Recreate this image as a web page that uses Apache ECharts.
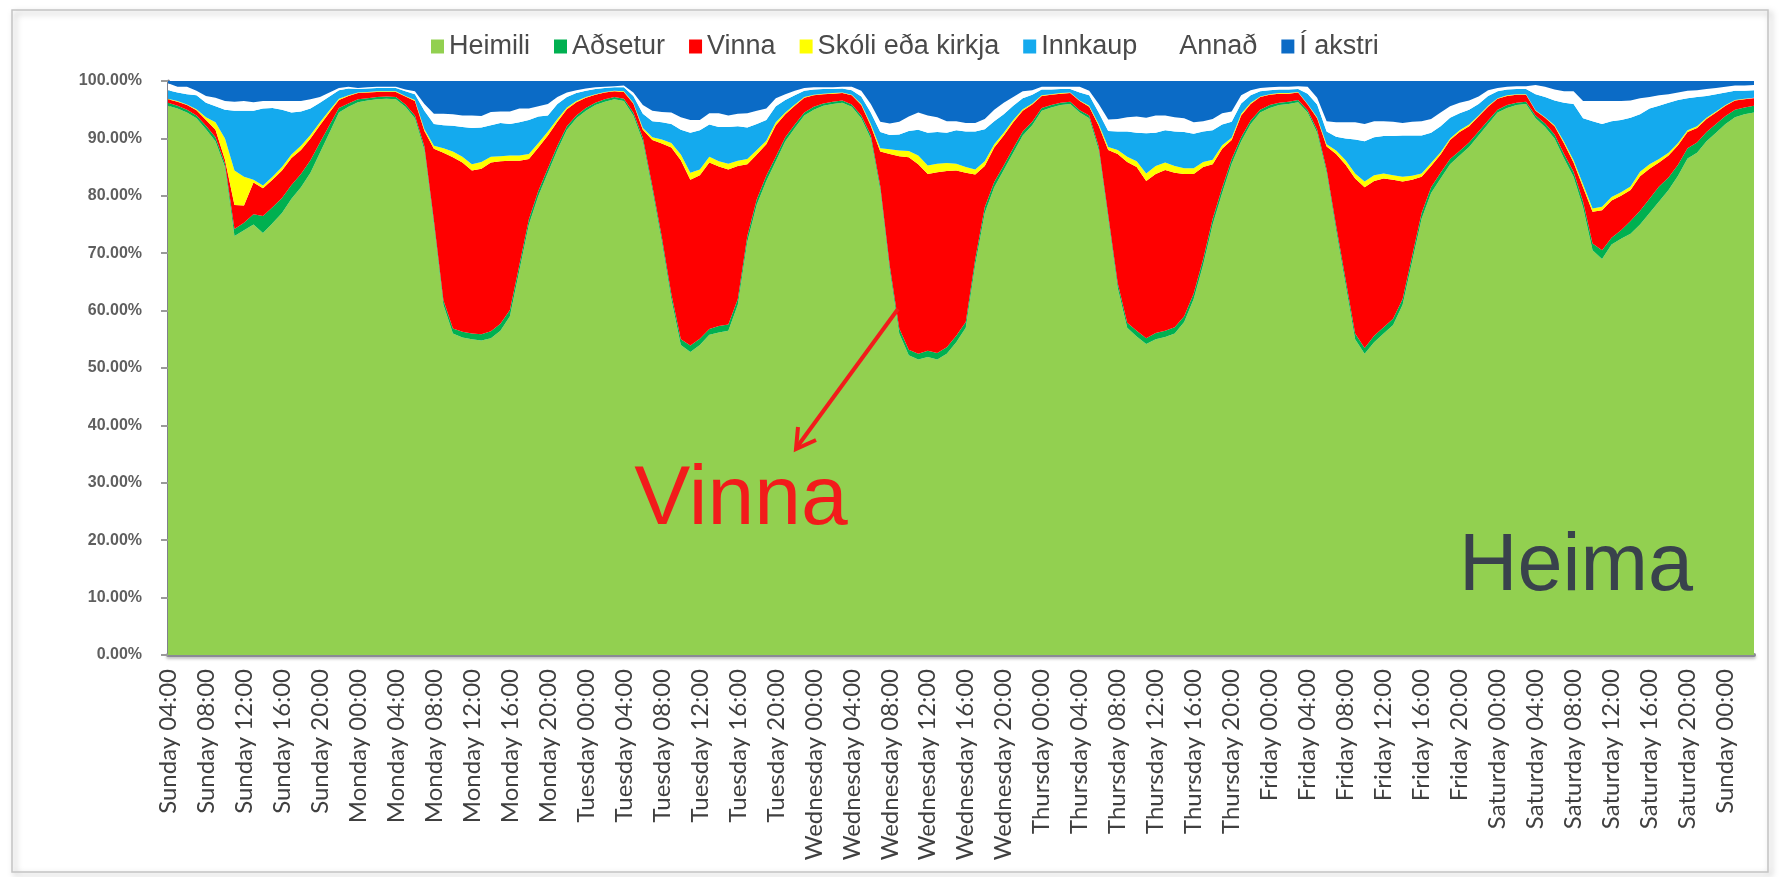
<!DOCTYPE html>
<html>
<head>
<meta charset="utf-8">
<script src="https://cdn.jsdelivr.net/npm/echarts@6/dist/echarts.min.js"></script>
<style>
html,body{margin:0;padding:0;background:#fff;}
#chart{width:1783px;height:877px;}
</style>
</head>
<body>
<div id="chart"></div>
<script>
// ---- data (share of people, %, hourly from Sunday 04:00) ----
const dayNames = ['Sunday','Monday','Tuesday','Wednesday','Thursday','Friday','Saturday'];
const startHour = 4;
const seriesNames = ['Heimili','Aðsetur','Vinna','Skóli eða kirkja','Innkaup','Annað','Í akstri'];

const heimili = [
95.7,95.2,94.5,93.5,91.6,89.5,85.0,73.0,74.0,75.0,73.5,75.2,77.0,79.5,81.5,84.0,87.5,91.0,94.5,95.5,
96.3,96.6,96.8,96.9,96.8,95.5,93.5,88.0,75.0,61.0,56.0,55.3,55.0,54.8,55.2,56.5,59.0,67.0,75.0,80.0,84.0,88.0,91.5,93.5,
94.8,95.8,96.4,96.8,96.5,94.0,89.5,81.0,72.0,62.0,54.0,52.8,54.0,55.8,56.2,56.5,61.0,72.0,78.5,82.6,86.0,89.5,91.8,94.0,
95.0,95.7,96.0,96.2,95.5,93.5,90.0,81.0,67.0,56.0,52.2,51.5,51.9,51.5,52.5,54.5,57.0,68.0,77.0,81.5,84.5,87.5,90.5,92.3,
94.8,95.4,95.8,96.0,94.5,93.5,88.0,76.0,64.0,57.0,55.5,54.2,55.0,55.4,56.0,58.0,62.0,68.0,75.0,80.5,85.6,89.5,92.5,94.5,
95.3,95.8,96.0,96.3,94.5,91.0,84.0,74.0,64.5,55.0,52.5,54.5,56.0,57.5,61.0,68.5,76.0,80.5,83.0,85.5,87.0,88.5,90.5,92.5,
94.5,95.3,95.8,96.0,93.5,92.0,90.0,86.5,83.3,78.0,70.5,69.0,71.5,72.5,73.4,75.0,77.0,79.0,81.0,83.5,86.5,87.5,89.5,91.0,92.5,93.7,94.2,94.5
];
const adsetur = [
0.5,0.5,0.5,0.5,0.6,0.7,0.6,1.2,1.3,1.8,3.0,2.8,2.6,2.4,2.3,2.2,1.8,1.3,0.8,0.6,
0.5,0.4,0.4,0.4,0.4,0.4,0.5,0.6,0.7,0.8,0.9,1.0,1.0,1.1,1.2,1.2,1.1,1.0,0.9,0.9,0.8,0.7,0.6,0.5,
0.5,0.4,0.4,0.4,0.4,0.5,0.6,0.7,0.8,0.9,1.0,1.1,1.1,1.0,1.1,1.1,1.0,1.0,0.9,0.9,0.8,0.7,0.6,0.5,
0.5,0.4,0.4,0.4,0.4,0.5,0.6,0.7,0.8,0.9,1.0,1.0,1.1,1.1,1.1,1.1,1.0,1.0,1.0,0.9,0.8,0.8,0.7,0.6,
0.5,0.4,0.4,0.4,0.4,0.5,0.6,0.7,0.8,0.9,1.0,1.0,1.1,1.1,1.1,1.0,1.0,1.0,1.0,0.9,0.8,0.7,0.6,0.5,
0.5,0.4,0.4,0.4,0.4,0.5,0.6,0.8,0.9,1.0,1.0,1.1,1.1,1.1,1.0,1.0,1.0,1.0,1.0,0.9,0.8,0.8,0.7,0.6,
0.5,0.5,0.4,0.4,0.5,0.6,0.7,0.8,0.9,1.0,1.2,1.5,1.2,1.5,2.2,2.4,2.5,2.6,2.2,1.9,1.8,1.8,1.6,1.5,1.4,1.3,1.2,1.2
];
const vinna = [
0.6,0.7,0.8,0.9,1.0,1.3,0.7,4.2,3.0,5.5,4.8,4.8,4.8,4.7,4.2,3.8,3.0,2.2,1.4,1.3,
1.1,1.0,0.9,0.8,0.9,1.4,2.5,2.7,12.5,25.7,29.8,29.5,28.4,28.8,29.4,28.3,26.0,18.1,10.5,7.5,5.7,4.2,3.0,2.3,
1.8,1.4,1.2,1.0,1.2,1.6,1.4,8.0,16.3,25.5,31.2,28.9,28.5,29.0,27.8,27.0,23.2,12.5,7.8,5.5,5.5,4.0,3.3,2.6,
2.0,1.6,1.4,1.3,1.6,1.8,1.6,6.0,19.5,30.0,33.5,33.0,30.8,31.5,30.7,28.8,26.0,14.7,7.2,6.0,5.2,4.5,3.6,3.0,
2.1,1.8,1.6,1.5,1.6,1.5,3.6,11.3,22.5,28.0,28.5,27.4,27.7,28.0,26.9,24.8,20.8,16.0,9.5,6.8,3.3,3.8,2.9,2.2,
1.8,1.6,1.4,1.3,1.0,2.0,4.0,12.5,20.0,27.0,28.0,27.0,25.9,24.2,20.5,13.3,6.3,3.7,3.2,3.3,3.3,2.8,2.6,2.4,
1.9,1.6,1.4,1.2,0.8,1.0,1.4,1.8,1.6,2.5,5.5,7.0,6.5,6.0,5.4,6.0,5.2,4.2,3.8,3.4,2.8,2.5,2.3,2.0,1.8,1.6,1.4,1.3
];
const skoli = [
0.1,0.1,0.1,0.2,0.5,1.3,3.7,6.0,5.0,0.5,0.5,0.5,0.6,0.6,0.7,0.6,0.5,0.4,0.2,0.1,
0.1,0.1,0.1,0.1,0.1,0.1,0.2,0.3,0.5,0.8,1.0,1.0,1.1,1.2,1.0,0.9,0.9,0.9,0.9,0.8,0.7,0.5,0.3,0.2,
0.1,0.1,0.1,0.1,0.1,0.1,0.3,0.5,0.7,0.8,1.0,1.2,1.0,1.0,0.9,1.0,0.9,0.9,0.8,0.6,0.5,0.3,0.2,0.1,
0.1,0.1,0.1,0.1,0.1,0.2,0.3,0.6,0.8,1.0,1.1,1.5,1.5,1.5,1.4,1.2,1.0,0.9,0.8,0.6,0.5,0.4,0.3,0.2,
0.1,0.1,0.1,0.1,0.1,0.2,0.3,0.5,0.7,0.9,1.0,1.3,1.4,1.3,1.2,1.0,1.0,0.9,0.8,0.6,0.4,0.3,0.2,0.1,
0.1,0.1,0.1,0.1,0.1,0.2,0.4,0.6,0.8,0.9,1.0,1.0,0.9,0.8,0.8,0.7,0.6,0.5,0.4,0.3,0.3,0.3,0.2,0.2,
0.1,0.1,0.1,0.1,0.1,0.1,0.2,0.3,0.4,0.5,0.6,0.6,0.6,0.6,0.6,0.8,0.8,0.6,0.5,0.4,0.3,0.3,0.2,0.2,0.1,0.1,0.1,0.1
];
const innkaup = [
1.5,1.5,1.8,2.4,2.5,2.8,5.0,10.4,11.5,12.0,13.4,12.0,10.0,7.3,6.0,4.6,3.4,2.4,1.5,1.2,
0.6,0.6,0.6,0.6,0.6,0.8,1.0,3.2,3.8,4.0,4.5,5.2,6.3,6.0,5.5,5.8,5.5,5.8,5.9,4.6,2.8,2.6,1.8,1.4,
1.1,0.9,0.7,0.6,0.7,1.2,2.5,2.8,3.0,3.3,4.3,7.0,6.8,5.6,6.0,6.4,6.0,5.5,4.5,3.6,2.8,2.2,1.6,1.1,
0.9,0.8,0.7,0.7,0.8,1.3,2.0,2.8,2.5,2.8,3.5,4.5,5.7,5.5,5.3,5.8,6.2,6.6,5.6,4.0,3.2,2.5,1.9,1.5,
1.0,0.8,0.7,0.6,1.4,1.8,2.0,2.8,3.2,4.4,5.0,7.0,5.8,5.6,6.0,6.3,6.0,5.3,5.1,3.6,2.8,1.8,1.3,0.9,
0.7,0.6,0.6,0.5,1.8,2.2,2.2,2.4,3.8,5.9,7.0,6.6,6.5,6.8,7.2,7.0,6.6,5.3,4.5,3.6,3.0,2.6,2.0,1.7,
1.2,1.0,0.9,0.9,2.8,3.5,4.3,6.8,9.8,11.5,15.2,14.4,13.2,12.6,12.0,10.0,9.7,9.3,8.7,7.5,5.6,5.1,3.8,3.0,2.2,1.6,1.4,1.3
];
const annad = [
1.2,1.0,1.3,0.8,1.2,1.5,1.5,1.6,1.7,1.5,1.3,1.2,1.5,2.0,1.8,1.6,1.0,0.7,0.4,0.3,
0.2,0.2,0.2,0.2,0.2,0.3,0.5,1.2,1.8,2.0,2.0,2.0,2.2,2.0,2.3,2.0,2.2,2.4,2.0,1.8,2.0,1.2,0.8,0.5,
0.4,0.3,0.2,0.2,0.3,0.6,1.5,1.8,1.8,2.0,2.2,2.2,1.8,2.0,2.4,2.0,2.2,2.5,2.3,2.0,1.4,1.0,0.8,0.5,
0.4,0.3,0.3,0.3,0.6,1.0,1.5,1.8,2.0,2.2,2.5,3.0,3.0,2.6,2.0,1.6,1.5,1.5,1.8,2.0,2.0,1.5,1.2,0.8,
0.5,0.5,0.4,0.4,1.0,0.8,1.5,2.0,2.2,2.5,2.8,2.7,3.0,2.6,2.5,2.4,2.0,1.8,2.0,2.0,1.8,1.4,0.9,0.6,
0.5,0.5,0.5,0.5,1.2,1.2,1.8,2.5,2.8,3.0,3.0,2.8,2.6,2.5,2.2,2.4,2.5,2.4,2.4,2.0,1.8,1.6,1.3,1.0,
0.6,0.5,0.5,0.5,1.6,1.8,1.9,2.0,2.2,3.0,3.5,4.0,3.5,3.3,3.0,2.8,2.0,1.8,1.5,1.3,1.3,1.2,1.2,1.1,1.0,0.9,0.9,0.9
];
const akstri = [
0.4,1.0,1.0,1.7,2.6,2.9,3.5,3.6,3.5,3.7,3.5,3.5,3.5,3.5,3.5,3.2,2.8,2.0,1.2,1.0,
1.2,1.1,1.0,1.0,1.0,1.5,1.8,4.0,5.7,5.7,5.8,6.0,6.0,6.1,5.4,5.3,5.3,4.8,4.8,4.4,4.0,2.8,2.0,1.6,
1.3,1.1,1.0,0.9,0.8,2.0,4.2,5.2,5.4,5.5,6.3,6.8,6.8,5.6,5.6,6.0,5.7,5.6,5.2,4.8,3.0,2.3,1.7,1.2,
1.1,1.1,1.1,1.0,1.0,1.7,4.0,7.1,7.4,7.1,6.2,5.5,6.0,6.3,7.0,7.0,7.3,7.3,6.6,5.0,3.8,2.8,1.8,1.6,
1.0,1.0,1.0,1.0,1.0,1.7,4.0,6.7,6.6,6.3,6.2,6.4,6.0,6.0,6.3,6.5,7.2,7.0,6.6,5.6,5.3,2.5,1.6,1.2,
1.1,1.0,1.0,0.9,1.0,2.9,7.0,7.2,7.2,7.2,7.5,7.0,7.0,7.1,7.3,7.1,7.0,6.6,5.5,4.4,3.8,3.4,2.7,1.6,
1.2,1.0,0.9,0.9,0.7,1.0,1.5,1.8,1.8,3.5,3.5,3.5,3.5,3.5,3.4,3.0,2.8,2.5,2.3,2.0,1.7,1.6,1.4,1.2,1.0,0.8,0.8,0.7
];
const yTicks = [0,10,20,30,40,50,60,70,80,90,100];

// category labels: one per hour, starting Sunday 04:00
const categories = heimili.map((_, i) => {
  const t = startHour + i;
  const d = dayNames[Math.floor(t / 24) % 7];
  const hh = String(t % 24).padStart(2, '0');
  return d + ' ' + hh + ':00';
});

const colors = ['#92D050','#00B050','#FF0000','#FFFF00','#14AAEE','#FFFFFF','#0B6BC6'];
const values = [heimili, adsetur, vinna, skoli, innkaup, annad, akstri];

const chart = echarts.init(document.getElementById('chart'), null, {renderer:'canvas'});
const option = {
  animation: false,
  backgroundColor: '#ffffff',
  legend: {
    top: 28, left: 426,
    icon: 'rect', itemWidth: 13, itemHeight: 14, itemGap: 24,
    textStyle: {fontFamily: '"Liberation Sans", Arial, sans-serif', fontSize: 27, color: '#4a4a4a'},
    data: seriesNames
  },
  grid: {left: 168, right: 29, top: 81, bottom: 222, outerBoundsMode: 'none'},
  xAxis: {
    type: 'category', boundaryGap: false, data: categories,
    axisLine: {lineStyle: {color: '#8a8a94', width: 4, shadowColor: 'rgba(0,0,0,0.25)', shadowBlur: 3, shadowOffsetY: 2}},
    axisTick: {show: false},
    axisLabel: {interval: 3, rotate: 90, margin: 14, fontFamily: 'Lato, "Liberation Sans", sans-serif', fontSize: 24, color: '#404040'},
    splitLine: {show: false}
  },
  yAxis: {
    type: 'value', min: yTicks[0], max: yTicks[yTicks.length-1], interval: 10,
    axisLine: {show: true, lineStyle: {color: '#80808c', width: 3}},
    axisTick: {show: true, length: 7, lineStyle: {color: '#9a9a9a', width: 2}},
    axisLabel: {formatter: v => v.toFixed(2) + '%', fontFamily: '"Liberation Sans", Arial, sans-serif', fontWeight: 'bold', fontSize: 16, color: '#5f5f5f', margin: 26},
    splitLine: {show: false}
  },
  series: seriesNames.map((name, k) => ({
    name, type: 'line', stack: 'total', symbol: 'none', smooth: false,
    lineStyle: {width: 0, color: colors[k]},
    itemStyle: {color: colors[k]},
    areaStyle: {color: colors[k], opacity: 1},
    emphasis: {disabled: true},
    data: values[k]
  })),
  graphic: [
    {type: 'rect', shape: {x: 12, y: 10, width: 1756, height: 862},
     style: {fill: null, stroke: '#c4c4c4', lineWidth: 1.5, shadowBlur: 6, shadowOffsetX: 3, shadowOffsetY: 3, shadowColor: 'rgba(0,0,0,0.35)'}, silent: true, z: 100},
    {type: 'text', x: 741, y: 501, style: {text: 'Vinna', fill: '#F21B1B', font: '84px "Liberation Sans", Arial, sans-serif', align: 'center', verticalAlign: 'middle'}, z: 100},
    {type: 'text', x: 1576, y: 568, style: {text: 'Heima', fill: '#39424c', font: '81px "Liberation Sans", Arial, sans-serif', align: 'center', verticalAlign: 'middle'}, z: 100},
    {type: 'polyline', shape: {points: [[898, 309], [797, 447]]}, style: {stroke: '#F21B1B', lineWidth: 4}, z: 100},
    {type: 'polyline', shape: {points: [[816, 440], [796, 449], [798, 427]]}, style: {stroke: '#F21B1B', lineWidth: 4, lineJoin: 'miter', fill: null}, z: 100}
  ]
};
chart.setOption(option);
</script>
</body>
</html>
